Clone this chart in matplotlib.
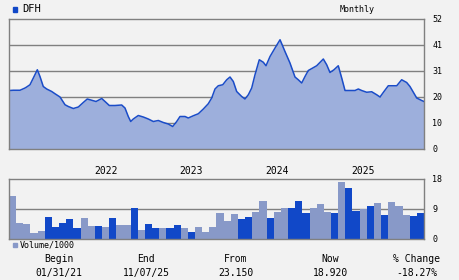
import numpy as np
import matplotlib
matplotlib.use('Agg')
from matplotlib import pyplot as plt

# price trace, x in months from first bar
price_x = [-0.45, 0.10, 1.04, 1.74, 1.97, 2.43, 2.90, 3.46, 3.83, 4.29, 4.77, 5.47,
           5.93, 6.63, 7.33, 7.79, 8.49, 9.19, 9.88, 10.44, 11.06, 11.66, 12.46,
           12.92, 13.52, 14.31, 15.25, 15.71, 16.17, 16.51, 16.87, 17.57, 18.27,
           18.97, 19.67, 20.37, 21.07, 21.76, 22.38, 22.94, 23.40, 24.10, 24.56,
           25.26, 25.96, 26.66, 27.35, 27.83, 28.29, 28.75, 29.37, 29.93, 30.39,
           30.85, 31.32, 32.02, 32.48, 32.95, 33.42, 33.88, 34.48, 35.04, 35.42,
           35.98, 36.68, 37.38, 38.07, 38.77, 39.47, 39.93, 40.41, 40.87, 41.33,
           41.95, 42.50, 43.43, 43.90, 44.36, 44.92, 45.52, 46.00, 46.46, 47.86,
           48.32, 48.79, 49.49, 50.19, 50.89, 51.35, 51.91, 52.51, 53.69, 54.38,
           55.08, 55.54, 56.48, 57.18, 57.50]
price = [23.4, 23.5, 23.5, 24.4, 24.8, 25.7, 28.4, 31.7, 29.0, 25.0, 24.0, 23.0,
         22.1, 20.8, 17.7, 17.0, 16.2, 16.8, 18.6, 20.0, 19.5, 19.0, 20.2,
         19.0, 17.4, 17.4, 17.6, 16.4, 13.0, 11.0, 12.0, 13.4, 12.8,
         12.0, 11.0, 11.4, 10.6, 10.0, 9.0, 11.0, 13.0, 13.0, 12.4,
         13.3, 14.1, 16.0, 18.1, 20.4, 24.0, 25.3, 25.7, 27.7, 28.8,
         27.0, 23.0, 21.0, 20.0, 21.7, 24.4, 29.7, 35.7, 34.7, 33.3,
         37.0, 40.4, 43.7, 39.0, 34.4, 28.8, 27.7, 26.4, 29.0, 31.4,
         32.4, 33.3, 36.0, 33.7, 30.6, 31.7, 33.3, 28.4, 23.4, 23.4,
         24.0, 23.4, 22.7, 22.9, 21.7, 20.8, 23.0, 25.3, 25.3, 27.7,
         26.6, 25.0, 20.4, 19.4, 19.0]

volume = [13.0, 4.8, 4.5, 1.8, 2.4, 6.6, 3.6, 4.8, 6.0, 3.3, 6.3, 3.9, 3.9, 3.6,
          6.3, 4.2, 4.2, 9.4, 2.7, 4.5, 3.3, 3.3, 3.3, 4.2, 3.3, 2.1, 3.6, 2.1,
          3.6, 7.8, 5.4, 7.5, 6.0, 6.6, 8.1, 11.5, 6.3, 8.1, 9.4, 9.4, 11.5, 7.8,
          9.4, 10.6, 8.1, 7.8, 17.2, 15.4, 8.5, 9.1, 10.0, 10.9, 7.2, 11.2, 10.0,
          7.2, 6.9, 7.8]
dark = [0, 0, 0, 0, 0, 1, 1, 1, 1, 1, 0, 0, 1, 0, 1, 0, 0, 1, 0, 1, 1, 0, 1, 1,
        0, 1, 0, 0, 0, 0, 0, 0, 1, 1, 0, 0, 1, 0, 0, 1, 1, 1, 0, 0, 0, 1, 0, 1,
        1, 0, 1, 0, 1, 0, 0, 0, 1, 1]

years = ['2022', '2023', '2024', '2025']
year_pos = [13, 25, 37, 49]

price_ticks = [0, 10.4, 20.8, 31.2, 41.6, 52]
price_labels = ['0', '10', '20', '31', '41', '52']
vol_ticks = [0, 9, 18]

summary = [('Begin', '01/31/21'), ('End', '11/07/25'), ('From', '23.150'),
           ('Now', '18.920'), ('% Change', '-18.27%')]
summary_x = [59, 146, 236, 330, 417]

bg = '#f2f2f2'
grid_c = '#808080'
fill_c = '#9dafdc'
line_c = '#1a4cc8'
dark_c = '#1148c8'
light_c = '#8899c8'
mono = 'DejaVu Sans Mono'

fig = plt.figure(figsize=(4.6, 2.8), dpi=100)
fig.patch.set_facecolor(bg)

ax = fig.add_axes([9 / 460, 1 - 149 / 280, 415 / 460, 130 / 280])
ax.set_facecolor(bg)
ax.fill_between(price_x, 0, price, color=fill_c, lw=0)
ax.plot(price_x, price, color=line_c, lw=1.1)
ax.set_xlim(-0.5, 57.5)
ax.set_ylim(0, 52)
ax.set_yticks(price_ticks)
ax.set_yticklabels(price_labels, family=mono, fontsize=6)
ax.yaxis.tick_right()
ax.tick_params(axis='y', length=0, pad=6)
ax.set_xticks([])
for t in price_ticks[1:-1]:
    ax.axhline(t, color=grid_c, lw=1, zorder=0.5)
for s in ax.spines.values():
    s.set_color(grid_c)
    s.set_linewidth(1)

vx = fig.add_axes([9 / 460, 1 - 239 / 280, 415 / 460, 60 / 280])
vx.set_facecolor(bg)
vx.bar(np.arange(len(volume)), volume, width=1.0,
       color=[dark_c if d else light_c for d in dark], lw=0, zorder=2)
vx.set_xlim(-0.5, 57.5)
vx.set_ylim(0, 18)
vx.set_yticks(vol_ticks)
vx.set_yticklabels([str(v) for v in vol_ticks], family=mono, fontsize=6)
vx.yaxis.tick_right()
vx.tick_params(axis='y', length=0, pad=6)
vx.set_xticks([])
vx.axhline(9, color=grid_c, lw=1, zorder=1)
for s in vx.spines.values():
    s.set_color(grid_c)
    s.set_linewidth(1)

for y, p in zip(years, year_pos):
    vx.text(p, 1.14, y, transform=vx.get_xaxis_transform(), ha='center', va='center',
            family=mono, fontsize=7)

fig.patches.append(plt.Rectangle((13 / 460, 1 - 12 / 280), 4 / 460, 5 / 280,
                                 transform=fig.transFigure, color=dark_c))
fig.text(22 / 460, 1 - 9 / 280, 'DFH', family=mono, fontsize=7.5, va='center')
fig.text(357 / 460, 1 - 9 / 280, 'Monthly', family=mono, fontsize=6, ha='center',
         va='center')

fig.patches.append(plt.Rectangle((13 / 460, 1 - 247 / 280), 4 / 460, 4 / 280,
                                 transform=fig.transFigure, color=light_c))
fig.text(20 / 460, 1 - 245 / 280, 'Volume/1000', family=mono, fontsize=6,
         va='center')

for (head, val), x in zip(summary, summary_x):
    fig.text(x / 460, 1 - 259 / 280, head, family=mono, fontsize=7, ha='center',
             va='center')
    fig.text(x / 460, 1 - 273 / 280, val, family=mono, fontsize=7, ha='center',
             va='center')

fig.savefig('out.png', dpi=100, facecolor=bg)
